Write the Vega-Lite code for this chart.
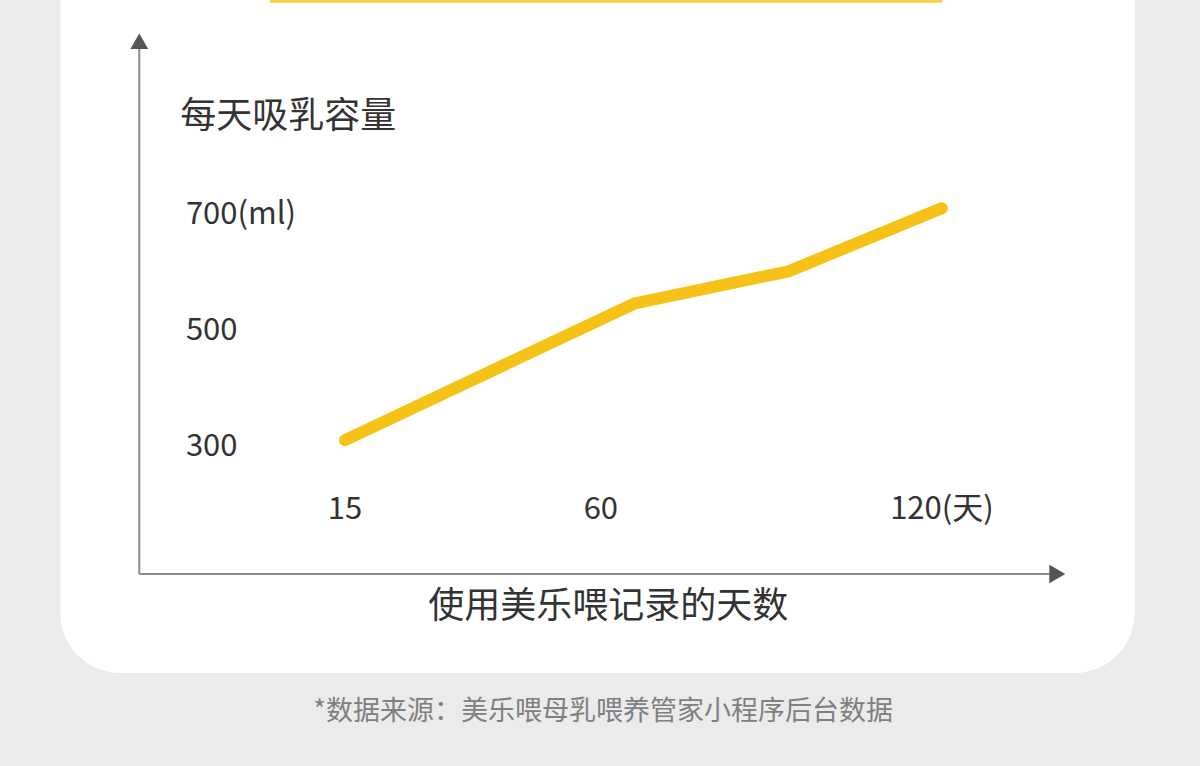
{
  "$schema": "https://vega.github.io/schema/vega-lite/v6.json",
  "width": 1200,
  "height": 766,
  "autosize": {"type": "none"},
  "padding": 0,
  "background": "#ebebeb",
  "config": {
    "view": {"stroke": null},
    "text": {"font": "Noto Sans CJK SC", "color": "#333333"}
  },
  "datasets": {
    "intake": [
      {"day": 15, "ml": 300},
      {"day": 66, "ml": 536},
      {"day": 93, "ml": 591},
      {"day": 120, "ml": 700}
    ],
    "yticks": [
      {"ml": 300, "label": "300"},
      {"ml": 500, "label": "500"},
      {"ml": 700, "label": "700(ml)"}
    ],
    "xticks": [
      {"day": 15, "label": "15"},
      {"day": 60, "label": "60"},
      {"day": 120, "label": "120(天)"}
    ],
    "one": [{}]
  },
  "layer": [
    {
      "data": {"name": "one"},
      "mark": {"type": "rect", "color": "#ffffff", "cornerRadius": 60},
      "encoding": {
        "x": {"datum": -35.1, "type": "quantitative", "scale": {"domain": [-45.7, 165.4], "nice": false, "zero": false}, "axis": null},
        "x2": {"datum": 153.9},
        "y": {"datum": -101.7, "type": "quantitative", "scale": {"domain": [-262, 1059], "nice": false, "zero": false}, "axis": null},
        "y2": {"datum": 1196.6}
      }
    },
    {
      "data": {"name": "one"},
      "mark": {"type": "rule", "color": "#f6cf45", "strokeWidth": 3},
      "encoding": {
        "x": {"datum": 1.8, "type": "quantitative"},
        "x2": {"datum": 120},
        "y": {"datum": 1056.9, "type": "quantitative"}
      }
    },
    {
      "data": {"name": "one"},
      "mark": {"type": "rule", "color": "#8c8c8c", "strokeWidth": 2},
      "encoding": {
        "x": {"datum": -21.2, "type": "quantitative"},
        "y": {"datum": 69, "type": "quantitative"},
        "y2": {"datum": 975.9}
      }
    },
    {
      "data": {"name": "one"},
      "mark": {"type": "rule", "color": "#8c8c8c", "strokeWidth": 2},
      "encoding": {
        "x": {"datum": -21.2, "type": "quantitative"},
        "x2": {"datum": 139},
        "y": {"datum": 69, "type": "quantitative"}
      }
    },
    {
      "data": {"name": "one"},
      "mark": {"type": "point", "shape": "triangle-up", "filled": true, "color": "#555555", "size": 320, "opacity": 1},
      "encoding": {
        "x": {"datum": -21.2, "type": "quantitative"},
        "y": {"datum": 987.9, "type": "quantitative"}
      }
    },
    {
      "data": {"name": "one"},
      "mark": {"type": "point", "shape": "triangle-right", "filled": true, "color": "#555555", "size": 340, "opacity": 1},
      "encoding": {
        "x": {"datum": 140.3, "type": "quantitative"},
        "y": {"datum": 69, "type": "quantitative"}
      }
    },
    {
      "data": {"name": "intake"},
      "mark": {"type": "line", "color": "#f7c217", "strokeWidth": 12, "strokeCap": "round", "strokeJoin": "round"},
      "encoding": {
        "x": {"field": "day", "type": "quantitative"},
        "y": {"field": "ml", "type": "quantitative"}
      }
    },
    {
      "data": {"name": "one"},
      "mark": {"type": "text", "align": "left", "baseline": "middle", "fontSize": 36},
      "encoding": {
        "x": {"datum": -14.0, "type": "quantitative"},
        "y": {"datum": 856.9, "type": "quantitative"},
        "text": {"value": "每天吸乳容量"}
      }
    },
    {
      "data": {"name": "yticks"},
      "mark": {"type": "text", "align": "left", "baseline": "middle", "fontSize": 31, "dy": 7},
      "encoding": {
        "x": {"datum": -13.0, "type": "quantitative"},
        "y": {"field": "ml", "type": "quantitative"},
        "text": {"field": "label"}
      }
    },
    {
      "data": {"name": "xticks"},
      "mark": {"type": "text", "align": "center", "baseline": "middle", "fontSize": 31, "dy": 2},
      "encoding": {
        "x": {"field": "day", "type": "quantitative"},
        "y": {"datum": 182.8, "type": "quantitative"},
        "text": {"field": "label"}
      }
    },
    {
      "data": {"name": "one"},
      "mark": {"type": "text", "align": "center", "baseline": "middle", "fontSize": 36},
      "encoding": {
        "x": {"datum": 61.3, "type": "quantitative"},
        "y": {"datum": 12.1, "type": "quantitative"},
        "text": {"value": "使用美乐喂记录的天数"}
      }
    },
    {
      "data": {"name": "one"},
      "mark": {"type": "text", "align": "center", "baseline": "middle", "fontSize": 27, "color": "#808080"},
      "encoding": {
        "x": {"datum": 60.4, "type": "quantitative"},
        "y": {"datum": -169, "type": "quantitative"},
        "text": {"value": "*数据来源：美乐喂母乳喂养管家小程序后台数据"}
      }
    }
  ]
}
